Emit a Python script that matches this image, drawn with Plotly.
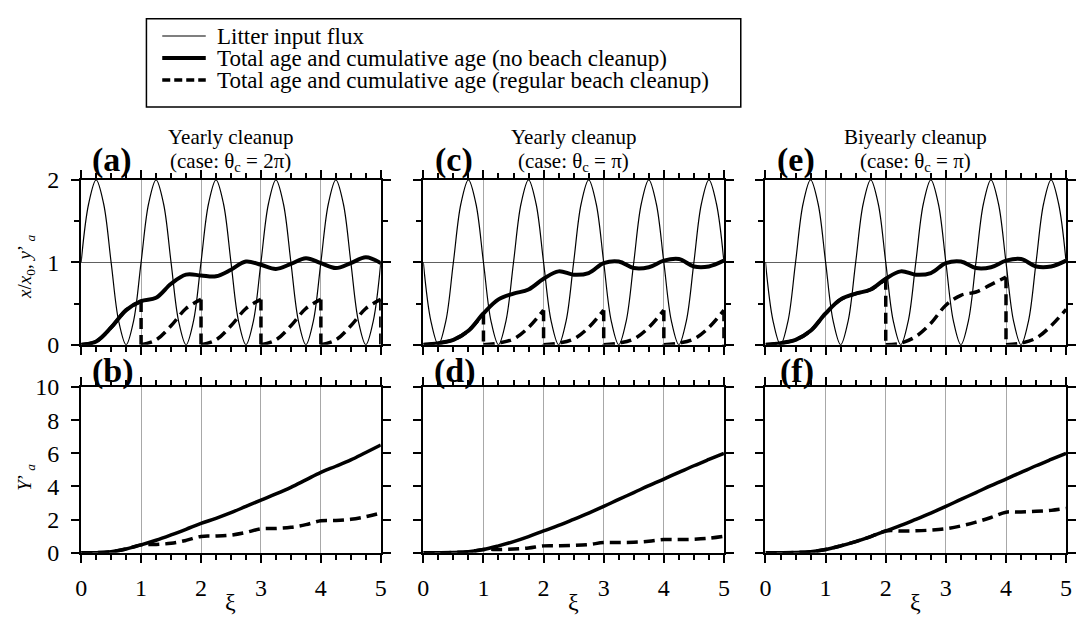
import plotly.graph_objects as go

# ---------------------------------------------------------------- data
# sampling grids in ξ
XI8 = [0, 0.125, 0.25, 0.375, 0.5, 0.625, 0.75, 0.875,
       1, 1.125, 1.25, 1.375, 1.5, 1.625, 1.75, 1.875,
       2, 2.125, 2.25, 2.375, 2.5, 2.625, 2.75, 2.875,
       3, 3.125, 3.25, 3.375, 3.5, 3.625, 3.75, 3.875,
       4, 4.125, 4.25, 4.375, 4.5, 4.625, 4.75, 4.875, 5]
XI4 = [0, 0.25, 0.5, 0.75, 1, 1.25, 1.5, 1.75, 2, 2.25, 2.5,
       2.75, 3, 3.25, 3.5, 3.75, 4, 4.25, 4.5, 4.75, 5]

# litter input flux x/x0
FLUX_A = [1, 1.71, 2, 1.71, 1, 0.29, 0, 0.29,
          1, 1.71, 2, 1.71, 1, 0.29, 0, 0.29,
          1, 1.71, 2, 1.71, 1, 0.29, 0, 0.29,
          1, 1.71, 2, 1.71, 1, 0.29, 0, 0.29,
          1, 1.71, 2, 1.71, 1, 0.29, 0, 0.29, 1]
FLUX_C = [1, 0.29, 0, 0.29, 1, 1.71, 2, 1.71,
          1, 0.29, 0, 0.29, 1, 1.71, 2, 1.71,
          1, 0.29, 0, 0.29, 1, 1.71, 2, 1.71,
          1, 0.29, 0, 0.29, 1, 1.71, 2, 1.71,
          1, 0.29, 0, 0.29, 1, 1.71, 2, 1.71, 1]

# total age y'_a, no beach cleanup
NOCLEAN_A = [0, 0.04, 0.21, 0.42, 0.53, 0.57, 0.74, 0.85, 0.84, 0.83, 0.91,
             1.01, 0.97, 0.92, 0.98, 1.05, 0.99, 0.93, 0.99, 1.06, 0.99]
NOCLEAN_C = [0, 0.02, 0.06, 0.17, 0.38, 0.55, 0.62, 0.67, 0.8, 0.89, 0.85,
             0.87, 0.99, 1.01, 0.93, 0.94, 1.02, 1.04, 0.95, 0.95, 1.02]

# total age y'_a with regular cleanup (value just after each cleanup is 0)
CLEAN_A = [0, 0.04, 0.21, 0.42, 0, 0.06, 0.23, 0.44, 0, 0.06, 0.23,
           0.44, 0, 0.06, 0.23, 0.44, 0, 0.06, 0.23, 0.44, 0]
CLEAN_C = [0, 0.02, 0.06, 0.17, 0, 0.02, 0.07, 0.21, 0, 0.02, 0.07,
           0.21, 0, 0.02, 0.07, 0.21, 0, 0.02, 0.07, 0.21, 0]
CLEAN_E = [0, 0.02, 0.06, 0.17, 0.38, 0.55, 0.62, 0.67, 0, 0.02, 0.1,
           0.26, 0.48, 0.6, 0.64, 0.73, 0, 0.02, 0.08, 0.23, 0.43]

# cleanup times and the age reached just before each cleanup
CUTS_A, PEAKS_A = [1, 2, 3, 4, 5], [0.53, 0.55, 0.55, 0.55, 0.55]
CUTS_C, PEAKS_C = [1, 2, 3, 4, 5], [0.38, 0.42, 0.42, 0.42, 0.42]
CUTS_E, PEAKS_E = [2, 4], [0.8, 0.82]

# cumulative age Y'_a
CUM_A = [0, 0.01, 0.07, 0.23, 0.48, 0.76, 1.08, 1.42, 1.77, 2.08, 2.42,
         2.8, 3.18, 3.55, 3.95, 4.4, 4.85, 5.22, 5.6, 6.05, 6.5]
CUMCLEAN_A = [0, 0.01, 0.07, 0.23, 0.48, 0.5, 0.58, 0.75, 0.99, 1.01, 1.07,
              1.23, 1.45, 1.47, 1.54, 1.7, 1.93, 1.95, 2.02, 2.18, 2.4]
CUM_C = [0, 0.005, 0.02, 0.07, 0.2, 0.42, 0.68, 0.98, 1.32, 1.65, 2.02,
         2.4, 2.8, 3.22, 3.63, 4.05, 4.45, 4.85, 5.25, 5.63, 6.0]
CUMCLEAN_C = [0, 0.005, 0.02, 0.07, 0.2, 0.205, 0.225, 0.29, 0.42, 0.425, 0.445,
              0.5, 0.62, 0.625, 0.64, 0.7, 0.8, 0.805, 0.82, 0.88, 1.0]
CUMCLEAN_E = [0, 0.005, 0.02, 0.07, 0.2, 0.42, 0.68, 0.98, 1.32, 1.32, 1.33,
              1.37, 1.45, 1.62, 1.85, 2.13, 2.45, 2.46, 2.5, 2.56, 2.68]

LEGEND_NAMES = ["Litter input flux",
                "Total age and cumulative age (no beach cleanup)",
                "Total age and cumulative age (regular beach cleanup)"]
PANEL_TITLES = ["Yearly cleanup", "Yearly cleanup", "Biyearly cleanup"]
PANEL_CASES = ["(case: θ<sub>c</sub> = 2π)", "(case: θ<sub>c</sub> = π)",
               "(case: θ<sub>c</sub> = π)"]

# ---------------------------------------------------------------- layout
W, H = 1083, 632
FONT = "Liberation Serif, Times New Roman, Times, serif"
COLS = [(76, 379), (422, 726), (768, 1072)]     # px, left/right of each column
ROW_TOP, ROW_BOT = (174, 346), (390, 563)       # px, top/bottom of each row
DASH = "11px,6px"


def px_x(p):
    return p / W


def px_y(p):
    return 1 - p / H


def cleanup_pieces(xs, ys, cuts, peaks):
    """Split a cleanup run into one piece per cycle plus vertical drops."""
    peak_at = dict(zip(cuts, peaks))
    sx, sy, dx, dy = [], [], [], []
    for x, y in zip(xs, ys):
        if x in peak_at:
            sx += [x, None, x]
            sy += [peak_at[x], None, y]
            dx += [x, x, None]
            dy += [peak_at[x], y, None]
        else:
            sx.append(x)
            sy.append(y)
    return sx, sy, dx, dy


fig = go.Figure()

panels = [
    # flux, no-cleanup, cleanup, cuts, peaks, cumulative, cumulative cleanup
    (FLUX_A, NOCLEAN_A, CLEAN_A, CUTS_A, PEAKS_A, CUM_A, CUMCLEAN_A),
    (FLUX_C, NOCLEAN_C, CLEAN_C, CUTS_C, PEAKS_C, CUM_C, CUMCLEAN_C),
    (FLUX_C, NOCLEAN_C, CLEAN_E, CUTS_E, PEAKS_E, CUM_C, CUMCLEAN_E),
]

for col, (flux, noclean, clean, cuts, peaks, cum, cumclean) in enumerate(panels):
    top = 2 * col + 1
    bot = 2 * col + 2
    xt, yt = f"x{top}", f"y{top}"
    xb, yb = f"x{bot}", f"y{bot}"

    fig.add_trace(go.Scatter(
        x=XI8, y=flux, xaxis=xt, yaxis=yt, mode="lines",
        line=dict(color="black", width=1.2, shape="spline")))

    sx, sy, dx, dy = cleanup_pieces(XI4, clean, cuts, peaks)
    fig.add_trace(go.Scatter(
        x=sx, y=sy, xaxis=xt, yaxis=yt, mode="lines",
        line=dict(color="black", width=3.5, dash=DASH, shape="spline")))
    fig.add_trace(go.Scatter(
        x=dx, y=dy, xaxis=xt, yaxis=yt, mode="lines",
        line=dict(color="black", width=3.5, dash=DASH)))
    fig.add_trace(go.Scatter(
        x=XI4, y=noclean, xaxis=xt, yaxis=yt, mode="lines",
        line=dict(color="black", width=4, shape="spline")))

    fig.add_trace(go.Scatter(
        x=XI4, y=cumclean, xaxis=xb, yaxis=yb, mode="lines",
        line=dict(color="black", width=3.5, dash=DASH, shape="spline")))
    fig.add_trace(go.Scatter(
        x=XI4, y=cum, xaxis=xb, yaxis=yb, mode="lines",
        line=dict(color="black", width=3.5, shape="spline")))

axis_common = dict(
    showline=True, linecolor="black", linewidth=2, mirror="allticks",
    ticks="outside", ticklen=8, tickwidth=1.5, tickcolor="black",
    zeroline=False, tickfont=dict(family=FONT, size=24, color="black"),
)

for col, (l, r) in enumerate(COLS):
    for row, (t, b) in enumerate([ROW_TOP, ROW_BOT]):
        i = 2 * col + row + 1
        suffix = "" if i == 1 else str(i)
        fig.layout["xaxis" + suffix] = dict(
            axis_common, domain=[px_x(l), px_x(r)], anchor=f"y{i}",
            range=[0, 5], dtick=1, tick0=0,
            showgrid=True, gridcolor="#a8a8a8", gridwidth=1,
            showticklabels=(row == 1), ticklabelstandoff=4,
            minor=dict(dtick=0.25, tick0=0, ticks="outside", ticklen=5,
                       tickwidth=1.5, tickcolor="black", showgrid=False),
        )
        if row == 0:
            ycfg = dict(range=[0, 2], dtick=1, tick0=0,
                        showgrid=True, gridcolor="#606060", gridwidth=1,
                        minor=dict(dtick=0.5, tick0=0, ticks="outside",
                                   ticklen=5, tickwidth=1.5,
                                   tickcolor="black", showgrid=False))
        else:
            ycfg = dict(range=[0, 10], dtick=2, tick0=0, showgrid=False)
        fig.layout["yaxis" + suffix] = dict(
            axis_common, domain=[px_y(b), px_y(t)], anchor=f"x{i}",
            showticklabels=(col == 0), ticklabelstandoff=7, **ycfg)

annotations = []
letters = [("(a)", "(b)"), ("(c)", "(d)"), ("(e)", "(f)")]
for col, (l, r) in enumerate(COLS):
    cx = px_x((l + r) / 2)
    annotations += [
        dict(text=f"<b>{letters[col][0]}</b>", x=px_x(l + 31), y=px_y(153),
             font=dict(size=34)),
        dict(text=f"<b>{letters[col][1]}</b>", x=px_x(l + 32), y=px_y(373),
             font=dict(size=34)),
        dict(text=PANEL_TITLES[col], x=cx, y=px_y(129), font=dict(size=21)),
        dict(text=PANEL_CASES[col], x=cx, y=px_y(155), font=dict(size=21)),
        dict(text="ξ", x=cx, y=px_y(614), font=dict(size=24)),
    ]
annotations += [
    dict(text="<i>x</i>/<i>x</i><sub>0</sub>, <i>y</i>’<sub> <i>a</i></sub>",
         x=px_x(20), y=px_y(265), textangle=-90, font=dict(size=19)),
    dict(text="<i>Y</i>’<sub> <i>a</i></sub>",
         x=px_x(20), y=px_y(484), textangle=-90, font=dict(size=19)),
]
for a in annotations:
    a.update(xanchor="center")

# legend block: sample strokes and their labels
LEGEND_ROWS = [24, 47, 70]
legend_styles = [dict(width=1.2), dict(width=4), dict(width=3.5, dash="8px,4px")]
shapes = [dict(type="rect", xref="paper", yref="paper",
               x0=px_x(142), x1=px_x(743), y0=px_y(98), y1=px_y(6),
               line=dict(color="black", width=1.5))]
for name, row_y, style in zip(LEGEND_NAMES, LEGEND_ROWS, legend_styles):
    shapes.append(dict(type="line", xref="paper", yref="paper",
                       x0=px_x(158), x1=px_x(202), y0=px_y(row_y), y1=px_y(row_y),
                       line=dict(color="black", **style)))
    annotations.append(dict(text=name, x=px_x(211), y=px_y(row_y),
                            xanchor="left", font=dict(size=23)))

for a in annotations:
    a.update(xref="paper", yref="paper", showarrow=False, yanchor="middle")
    a["font"].update(family=FONT, color="black")

fig.update_layout(
    width=W, height=H, margin=dict(l=0, r=0, t=0, b=0),
    paper_bgcolor="white", plot_bgcolor="white",
    showlegend=False, annotations=annotations, shapes=shapes,
)

fig.write_html("out.html")
